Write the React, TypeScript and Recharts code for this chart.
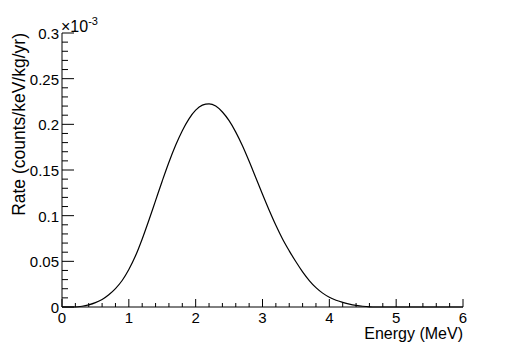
import React from 'react';
import { LineChart, Line, XAxis, YAxis } from 'recharts';

// energy grid (MeV) and rate (units of 1e-3 counts/keV/kg/yr)
const energy = [
  0, 0.1, 0.2, 0.3, 0.4, 0.5, 0.6, 0.7, 0.8, 0.9,
  1, 1.1, 1.2, 1.3, 1.4, 1.5, 1.6, 1.7, 1.8, 1.9,
  2, 2.1, 2.2, 2.3, 2.4, 2.5, 2.6, 2.7, 2.8, 2.9,
  3, 3.1, 3.2, 3.3, 3.4, 3.5, 3.6, 3.7, 3.8, 3.9,
  4, 4.1, 4.2, 4.3, 4.4, 4.5, 4.6, 4.7, 4.8, 4.9,
  5, 5.1, 5.2, 5.3, 5.4, 5.5, 5.6, 5.7, 5.8, 5.9, 6,
];
const rate = [
  0, 0, 0, 0.0008, 0.0024, 0.0048, 0.0083, 0.0135, 0.0202, 0.029,
  0.041, 0.056, 0.0745, 0.095, 0.1165, 0.138, 0.1585, 0.177, 0.193, 0.206,
  0.2155, 0.221, 0.2225, 0.22, 0.2135, 0.204, 0.1915, 0.1765, 0.1595, 0.1415,
  0.1235, 0.106, 0.0895, 0.0745, 0.0615, 0.0495, 0.0385, 0.029, 0.0212, 0.0152,
  0.0107, 0.0074, 0.0051, 0.0032, 0.0018, 0.0008, 0.0002, 0, 0, 0,
  0, 0, 0, 0, 0, 0, 0, 0, 0, 0, 0,
];

const xTicks = [
  0, 0.2, 0.4, 0.6, 0.8, 1, 1.2, 1.4, 1.6, 1.8, 2, 2.2, 2.4, 2.6, 2.8, 3,
  3.2, 3.4, 3.6, 3.8, 4, 4.2, 4.4, 4.6, 4.8, 5, 5.2, 5.4, 5.6, 5.8, 6,
];
const yTicks = [
  0, 0.01, 0.02, 0.03, 0.04, 0.05, 0.06, 0.07, 0.08, 0.09, 0.1,
  0.11, 0.12, 0.13, 0.14, 0.15, 0.16, 0.17, 0.18, 0.19, 0.2,
  0.21, 0.22, 0.23, 0.24, 0.25, 0.26, 0.27, 0.28, 0.29, 0.3,
];

const data = energy.map((e, i) => ({ e, rate: rate[i] }));

const FONT = 'Liberation Sans, Arial, Helvetica, sans-serif';

const isMajorX = (v: number) => Math.abs(v - Math.round(v)) < 1e-6;
const isMajorY = (v: number) => Math.abs(v * 20 - Math.round(v * 20)) < 1e-6;

const BottomTick = (props: any) => {
  const { x, y, payload } = props;
  const major = isMajorX(payload.value);
  return (
    <g>
      <line x1={x} y1={y} x2={x} y2={y - (major ? 8 : 4)} stroke="#000" />
      {major && (
        <text x={x} y={y + 16} textAnchor="middle" fontSize={15} fontFamily={FONT} fill="#000">
          {payload.value}
        </text>
      )}
    </g>
  );
};

const TopTick = (props: any) => {
  const { x, y, payload } = props;
  const major = isMajorX(payload.value);
  return <line x1={x} y1={y} x2={x} y2={y + (major ? 8 : 4)} stroke="#000" />;
};

const LeftTick = (props: any) => {
  const { x, y, payload } = props;
  const major = isMajorY(payload.value);
  return (
    <g>
      <line x1={x} y1={y} x2={x + (major ? 12 : 6)} y2={y} stroke="#000" />
      {major && (
        <text x={x - 3} y={y + 6} textAnchor="end" fontSize={15} fontFamily={FONT} fill="#000">
          {Number(payload.value.toFixed(2))}
        </text>
      )}
    </g>
  );
};

const RightTick = (props: any) => {
  const { x, y, payload } = props;
  const major = isMajorY(payload.value);
  return <line x1={x} y1={y} x2={x - (major ? 12 : 6)} y2={y} stroke="#000" />;
};

const XTitle = (props: any) => {
  const vb = props.viewBox;
  return (
    <text x={vb.x + vb.width} y={vb.y + 32} textAnchor="end" fontSize={16} fontFamily={FONT} fill="#000">
      Energy (MeV)
    </text>
  );
};

const YTitle = (props: any) => {
  const vb = props.viewBox;
  const tx = 25;
  const ty = vb.y;
  return (
    <g>
      <text
        x={tx}
        y={ty}
        transform={`rotate(-90 ${tx} ${ty})`}
        textAnchor="end"
        fontSize={17.5}
        fontFamily={FONT}
        fill="#000"
      >
        Rate (counts/keV/kg/yr)
      </text>
      <text x={vb.x + vb.width - 1} y={ty - 1} fontSize={16} fontFamily={FONT} fill="#000">
        ×10
        <tspan dy={-7} fontSize={11}>-3</tspan>
      </text>
    </g>
  );
};

export default function App() {
  return (
    <div style={{ position: 'absolute', top: 0, left: 0, background: '#fff' }}>
      <LineChart width={515} height={349} data={data} margin={{ top: 33, right: 52, bottom: 0, left: 0 }}>
        <XAxis
          dataKey="e"
          type="number"
          domain={[0, 6]}
          ticks={xTicks}
          interval={0}
          tickSize={0}
          tickMargin={0}
          tickLine={false}
          tick={<BottomTick />}
          axisLine={{ stroke: '#000' }}
          height={42}
          label={<XTitle />}
        />
        <XAxis
          xAxisId="top"
          orientation="top"
          type="number"
          domain={[0, 6]}
          ticks={xTicks}
          interval={0}
          tickSize={0}
          tickMargin={0}
          tickLine={false}
          tick={<TopTick />}
          axisLine={{ stroke: '#000' }}
          height={0}
        />
        <YAxis
          type="number"
          domain={[0, 0.3]}
          ticks={yTicks}
          interval={0}
          tickSize={0}
          tickMargin={0}
          tickLine={false}
          tick={<LeftTick />}
          axisLine={{ stroke: '#000' }}
          width={62}
          label={<YTitle />}
        />
        <YAxis
          yAxisId="right"
          orientation="right"
          type="number"
          domain={[0, 0.3]}
          ticks={yTicks}
          interval={0}
          tickSize={0}
          tickMargin={0}
          tickLine={false}
          tick={<RightTick />}
          axisLine={{ stroke: '#000' }}
          width={0}
        />
        <Line
          type="monotone"
          dataKey="rate"
          stroke="#000"
          strokeWidth={1.2}
          dot={false}
          isAnimationActive={false}
        />
      </LineChart>
    </div>
  );
}
